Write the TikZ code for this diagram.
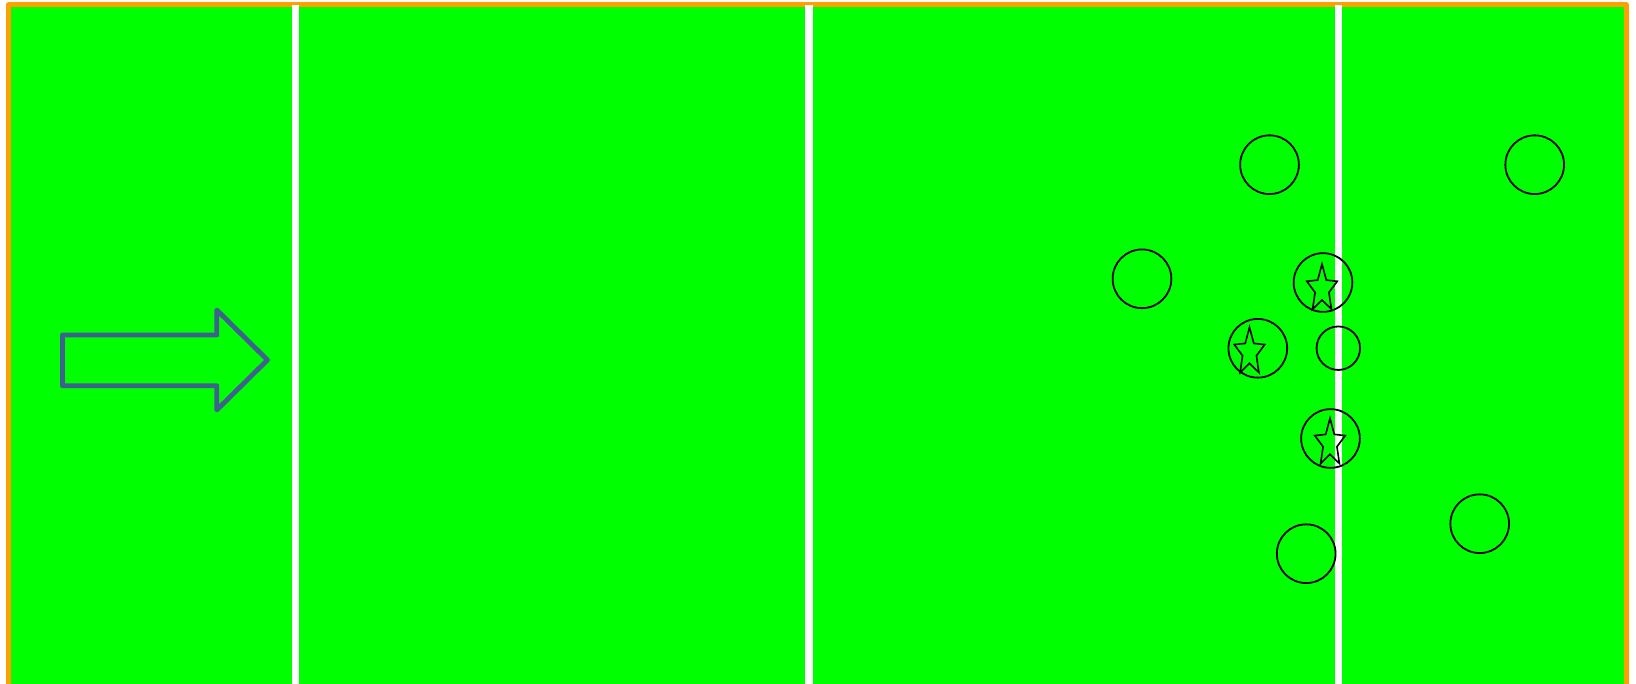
\documentclass[tikz,border=0pt]{standalone}
\usetikzlibrary{calc}
\definecolor{fieldgreen}{RGB}{0,255,0}
\definecolor{borderorange}{RGB}{255,160,0}
\definecolor{arrowblue}{RGB}{62,98,140}
\tikzset{
  player/.style={circle, draw=black, line width=1.8pt, inner sep=0pt, minimum size=58.7pt},
  smallplayer/.style={player, minimum size=43.5pt},
  starline/.style={draw=black, line width=1.6pt, line join=miter},
  fieldline/.style={draw=white, line width=7.5pt},
  fieldborder/.style={draw=borderorange, line width=5pt, line join=round},
  bigarrow/.style={draw=arrowblue, line width=4.8pt, line join=round}
}
\begin{document}
\begin{tikzpicture}[x=1pt,y=-1pt]
\useasboundingbox (0,0) rectangle (1636,684);
% field
\fill[fieldgreen] (8.5,5) rectangle (1626,686);
\draw[fieldborder] (8.5,5) rectangle (1626,686);
% white lines
\foreach \lx in {295.5,809.2,1338.5}{
  \draw[fieldline] (\lx,5) -- (\lx,690);
}
% arrow
\draw[bigarrow] (62.5,335) -- (216.8,335) -- (216.8,310) -- (267.5,360) -- (216.8,410) -- (216.8,385.8) -- (62.5,385.8) -- cycle;
% players
\node[player] (pA) at (1269.5,164.7) {};
\node[player] (pB) at (1534.7,164.7) {};
\node[player] (pC) at (1142,278.8) {};
\node[player] (pD) at (1323,282.5) {};
\node[player] (pE) at (1257.8,348.3) {};
\node[smallplayer] (pF) at (1338.3,348.2) {};
\node[player] (pG) at (1330.5,438.5) {};
\node[player] (pH) at (1306.2,553.7) {};
\node[player] (pI) at (1479.7,523.7) {};
% stars
\foreach \cx/\cy in {1322/289, 1249.5/352.3, 1330/443.3}{
  \draw[starline, shift={(\cx,\cy)}]
    (-90:16 and 25) -- (-54:7.3 and 11) -- (-18:16 and 25) -- (18:7.3 and 11)
    -- (54:16 and 25) -- (90:7.3 and 11) -- (126:16 and 25) -- (162:7.3 and 11)
    -- (198:16 and 25) -- (234:7.3 and 11) -- cycle;
}
\end{tikzpicture}
\end{document}
